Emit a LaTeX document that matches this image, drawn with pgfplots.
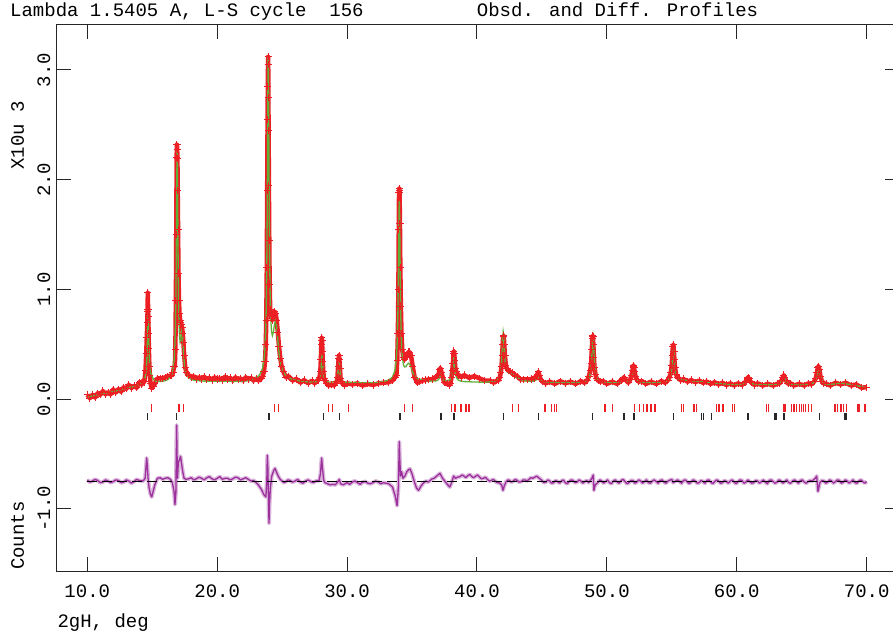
\documentclass[border=0pt]{standalone}
\usepackage{fontspec}
\setmainfont{Liberation Mono}
\usepackage{pgfplots}
\usepackage{pgfplotstable}
\pgfplotsset{compat=1.18}
\definecolor{obsred}{RGB}{236,32,36}
\definecolor{calcgreen}{RGB}{96,176,56}
\definecolor{diffpurple}{RGB}{156,48,156}

\pgfplotstableread{
x calc obs
10.0 0.020 0.040
10.2 0.025 0.010
10.4 0.030 0.040
10.6 0.035 0.015
10.8 0.040 0.055
11.0 0.045 0.040
11.2 0.050 0.075
11.4 0.055 0.045
11.6 0.060 0.065
11.8 0.065 0.045
12.0 0.070 0.090
12.2 0.076 0.061
12.4 0.082 0.092
12.6 0.088 0.068
12.8 0.094 0.109
13.0 0.100 0.095
13.2 0.106 0.131
13.4 0.112 0.102
13.6 0.118 0.123
13.8 0.124 0.104
14.0 0.135 0.155
14.2 0.149 0.134
14.3 0.160 0.170
14.4 0.178 0.158
14.48 0.212 0.26
14.54 0.269 0.42
14.58 0.350 0.56
14.62 0.505 0.70
14.64 0.615 0.80
14.66 0.720 0.97
14.68 0.768 0.82
14.70 0.720 0.75
14.72 0.615 0.60
14.74 0.507 0.46
14.78 0.353 0.30
14.82 0.274 0.22
14.88 0.240 0.14
14.96 0.220 0.10
15.06 0.190 0.12
15.2 0.163 0.14
15.4 0.164 0.19
15.6 0.161 0.19
15.8 0.164 0.19
16.0 0.170 0.20
16.2 0.179 0.21
16.4 0.201 0.215
16.5 0.223 0.22
16.6 0.268 0.24
16.68 0.346 0.30
16.74 0.471 0.30
16.78 0.628 0.45
16.82 0.916 0.90
16.85 1.283 1.50
16.88 1.796 2.20
16.90 2.121 2.32
16.92 2.26 2.28
16.94 2.12 2.19
16.96 1.84 1.90
16.99 1.335 1.55
17.02 0.978 1.15
17.06 0.708 0.90
17.10 0.577 0.78
17.15 0.518 0.72
17.20 0.537 0.70
17.25 0.603 0.68
17.30 0.639 0.65
17.35 0.562 0.60
17.40 0.446 0.52
17.46 0.344 0.40
17.54 0.270 0.29
17.64 0.226 0.24
17.80 0.197 0.22
18.00 0.182 0.20
18.2 0.174 0.21
18.4 0.170 0.185
18.6 0.168 0.20
18.8 0.166 0.185
19.0 0.165 0.205
19.2 0.165 0.18
19.4 0.165 0.195
19.6 0.164 0.175
19.8 0.164 0.20
20.0 0.164 0.185
20.2 0.164 0.19
20.4 0.164 0.175
20.6 0.164 0.205
20.8 0.164 0.185
21.0 0.164 0.195
21.2 0.164 0.17
21.4 0.164 0.20
21.6 0.165 0.18
21.8 0.165 0.19
22.0 0.165 0.17
22.2 0.167 0.20
22.4 0.169 0.18
22.6 0.171 0.195
22.8 0.186 0.17
23.0 0.196 0.19
23.2 0.213 0.17
23.4 0.251 0.19
23.5 0.289 0.21
23.6 0.356 0.25
23.68 0.472 0.34
23.74 0.64 0.50
23.78 0.853 0.72
23.82 1.22 1.20
23.85 1.67 1.90
23.88 2.306 2.55
23.90 2.765 2.85
23.92 3.079 3.12
23.93 3.123 3.05
23.94 3.081 2.75
23.96 2.772 2.45
23.98 2.318 1.95
24.01 1.708 1.45
24.04 1.274 1.05
24.08 0.93 0.82
24.12 0.742 0.78
24.18 0.619 0.74
24.25 0.58 0.72
24.33 0.613 0.76
24.42 0.689 0.80
24.50 0.716 0.78
24.58 0.657 0.72
24.67 0.535 0.61
24.76 0.427 0.48
24.86 0.344 0.37
24.96 0.291 0.30
25.1 0.247 0.25
25.3 0.213 0.20
25.5 0.197 0.21
25.8 0.181 0.17
26.1 0.172 0.185
26.4 0.166 0.15
26.7 0.162 0.175
27.0 0.158 0.145
27.3 0.157 0.17
27.5 0.159 0.145
27.7 0.162 0.17
27.8 0.170 0.175
27.88 0.187 0.20
27.94 0.218 0.25
27.98 0.257 0.36
28.02 0.324 0.50
28.05 0.379 0.56
28.07 0.391 0.54
28.10 0.361 0.44
28.13 0.305 0.34
28.17 0.245 0.25
28.22 0.204 0.19
28.3 0.178 0.17
28.45 0.161 0.14
28.6 0.157 0.125
28.8 0.157 0.135
29.0 0.160 0.125
29.1 0.165 0.14
29.2 0.181 0.16
29.26 0.208 0.20
29.31 0.258 0.30
29.35 0.317 0.37
29.38 0.34 0.40
29.41 0.317 0.36
29.45 0.258 0.28
29.5 0.208 0.19
29.56 0.181 0.16
29.66 0.164 0.14
29.8 0.157 0.125
30.0 0.154 0.145
30.4 0.152 0.135
30.8 0.151 0.145
31.2 0.150 0.125
31.6 0.150 0.14
32.0 0.150 0.13
32.4 0.151 0.145
32.8 0.162 0.15
33.2 0.175 0.155
33.5 0.203 0.17
33.7 0.27 0.20
33.8 0.376 0.22
33.86 0.525 0.35
33.91 0.78 0.60
33.95 1.145 1.00
33.98 1.509 1.55
34.00 1.721 1.88
34.02 1.807 1.92
34.04 1.722 1.90
34.07 1.398 1.60
34.10 1.051 1.20
34.14 0.732 0.85
34.19 0.516 0.60
34.25 0.391 0.45
34.33 0.32 0.38
34.42 0.294 0.36
34.52 0.297 0.38
34.62 0.315 0.41
34.72 0.328 0.43
34.82 0.318 0.43
34.92 0.298 0.40
35.05 0.244 0.30
35.2 0.213 0.20
35.4 0.191 0.15
35.6 0.18 0.16
35.8 0.176 0.17
36.0 0.171 0.175
36.3 0.166 0.18
36.6 0.166 0.185
36.8 0.167 0.20
36.95 0.171 0.215
37.05 0.181 0.23
37.12 0.20 0.27
37.2 0.223 0.28
37.28 0.20 0.24
37.36 0.182 0.20
37.5 0.171 0.15
37.7 0.17 0.14
37.85 0.174 0.13
37.95 0.183 0.14
38.04 0.205 0.20
38.1 0.24 0.26
38.15 0.297 0.33
38.19 0.359 0.42
38.22 0.381 0.44
38.25 0.359 0.42
38.29 0.297 0.35
38.34 0.24 0.28
38.4 0.205 0.25
38.49 0.183 0.23
38.6 0.172 0.22
38.8 0.164 0.20
39.0 0.161 0.22
39.4 0.159 0.195
39.8 0.157 0.21
40.2 0.156 0.19
40.6 0.155 0.17
41.0 0.159 0.17
41.3 0.163 0.15
41.5 0.171 0.17
41.65 0.186 0.17
41.75 0.211 0.20
41.83 0.255 0.24
41.89 0.326 0.30
41.94 0.436 0.40
41.98 0.552 0.50
42.02 0.615 0.57
42.06 0.584 0.58
42.10 0.471 0.50
42.15 0.363 0.40
42.22 0.291 0.31
42.3 0.258 0.28
42.4 0.245 0.26
42.55 0.24 0.25
42.7 0.232 0.24
42.9 0.212 0.22
43.1 0.194 0.21
43.35 0.18 0.18
43.6 0.171 0.18
43.9 0.165 0.18
44.2 0.164 0.185
44.4 0.165 0.19
44.55 0.175 0.21
44.65 0.195 0.23
44.72 0.207 0.25
44.8 0.192 0.22
44.9 0.172 0.18
45.05 0.162 0.16
45.3 0.158 0.145
45.6 0.155 0.16
46.0 0.154 0.14
46.4 0.153 0.165
46.8 0.152 0.145
47.2 0.152 0.16
47.6 0.152 0.14
48.0 0.157 0.165
48.3 0.163 0.15
48.5 0.174 0.175
48.62 0.192 0.21
48.72 0.232 0.26
48.79 0.297 0.33
48.84 0.389 0.45
48.88 0.496 0.55
48.91 0.565 0.58
48.93 0.582 0.57
48.96 0.546 0.50
49.0 0.44 0.38
49.05 0.328 0.29
49.12 0.245 0.23
49.2 0.204 0.19
49.32 0.179 0.17
49.5 0.165 0.16
49.7 0.159 0.165
50.0 0.156 0.14
50.4 0.154 0.16
50.8 0.153 0.14
51.0 0.155 0.165
51.15 0.161 0.17
51.25 0.174 0.19
51.32 0.184 0.20
51.4 0.173 0.18
51.5 0.163 0.17
51.65 0.164 0.15
51.8 0.175 0.18
51.9 0.20 0.22
51.97 0.242 0.26
52.02 0.281 0.30
52.05 0.291 0.31
52.09 0.275 0.29
52.14 0.235 0.25
52.2 0.20 0.21
52.3 0.174 0.18
52.45 0.161 0.16
52.7 0.154 0.165
53.0 0.152 0.14
53.4 0.150 0.16
53.8 0.149 0.14
54.2 0.153 0.165
54.5 0.159 0.15
54.7 0.17 0.175
54.82 0.187 0.20
54.92 0.223 0.24
54.99 0.283 0.31
55.04 0.357 0.40
55.08 0.432 0.48
55.12 0.469 0.50
55.16 0.433 0.44
55.2 0.36 0.36
55.25 0.288 0.29
55.32 0.231 0.23
55.42 0.198 0.20
55.55 0.184 0.19
55.7 0.177 0.17
55.9 0.174 0.185
56.2 0.171 0.16
56.5 0.167 0.175
56.8 0.165 0.155
57.1 0.162 0.17
57.4 0.158 0.15
57.7 0.153 0.16
58.0 0.148 0.14
58.3 0.145 0.155
58.6 0.142 0.135
58.9 0.14 0.15
59.2 0.138 0.13
59.5 0.137 0.145
59.8 0.136 0.125
60.1 0.137 0.145
60.4 0.139 0.13
60.6 0.145 0.15
60.72 0.16 0.165
60.8 0.181 0.19
60.87 0.194 0.20
60.94 0.181 0.185
61.02 0.16 0.165
61.15 0.145 0.15
61.35 0.137 0.13
61.6 0.134 0.145
62.0 0.132 0.125
62.4 0.131 0.14
62.8 0.132 0.125
63.1 0.135 0.14
63.3 0.143 0.145
63.45 0.162 0.17
63.55 0.194 0.20
63.62 0.21 0.22
63.69 0.194 0.20
63.79 0.162 0.17
63.94 0.143 0.14
64.15 0.135 0.145
64.4 0.132 0.125
64.8 0.129 0.14
65.2 0.131 0.125
65.5 0.134 0.145
65.75 0.139 0.135
65.95 0.153 0.16
66.08 0.181 0.19
66.17 0.224 0.24
66.24 0.274 0.29
66.30 0.296 0.30
66.36 0.273 0.27
66.44 0.217 0.21
66.55 0.17 0.165
66.7 0.145 0.145
66.9 0.134 0.14
67.2 0.135 0.125
67.6 0.14 0.15
68.0 0.143 0.135
68.4 0.14 0.15
68.8 0.133 0.125
69.2 0.125 0.135
69.6 0.115 0.105
70.0 0.105 0.11
}\profile

\pgfplotstableread{
x d
10.0 -0.735
10.2 -0.755
10.4 -0.745
10.6 -0.73
10.8 -0.74
11.0 -0.76
11.2 -0.755
11.4 -0.735
11.6 -0.745
11.8 -0.76
12.0 -0.75
12.2 -0.735
12.4 -0.74
12.6 -0.76
12.8 -0.755
13.0 -0.735
13.2 -0.745
13.4 -0.765
13.6 -0.75
13.8 -0.73
14.0 -0.74
14.3 -0.745
14.45 -0.72
14.52 -0.62
14.57 -0.535
14.62 -0.6
14.68 -0.72
14.75 -0.80
14.85 -0.86
14.96 -0.89
15.05 -0.85
15.2 -0.78
15.4 -0.72
15.6 -0.715
15.8 -0.73
16.0 -0.72
16.2 -0.715
16.4 -0.73
16.55 -0.76
16.68 -0.84
16.75 -0.96
16.82 -0.85
16.86 -0.45
16.88 -0.235
16.91 -0.5
16.95 -0.72
16.99 -0.62
17.03 -0.57
17.1 -0.55
17.18 -0.52
17.25 -0.58
17.35 -0.66
17.45 -0.72
17.6 -0.73
17.8 -0.725
18.0 -0.715
18.2 -0.735
18.4 -0.725
18.6 -0.71
18.8 -0.72
19.0 -0.735
19.2 -0.715
19.4 -0.705
19.6 -0.725
19.8 -0.735
20.0 -0.72
20.2 -0.705
20.4 -0.73
20.6 -0.72
20.8 -0.72
21.0 -0.735
21.2 -0.725
21.4 -0.71
21.6 -0.715
21.8 -0.735
22.0 -0.725
22.2 -0.715
22.4 -0.73
22.6 -0.745
22.8 -0.74
23.1 -0.77
23.4 -0.82
23.6 -0.87
23.75 -0.89
23.82 -0.75
23.86 -0.51
23.9 -0.62
23.95 -0.9
23.99 -1.13
24.03 -0.95
24.1 -0.8
24.2 -0.70
24.35 -0.65
24.45 -0.63
24.55 -0.66
24.7 -0.70
24.85 -0.73
25.0 -0.745
25.15 -0.76
25.3 -0.75
25.45 -0.735
25.6 -0.74
25.8 -0.755
26.0 -0.745
26.2 -0.73
26.4 -0.755
26.6 -0.765
26.8 -0.745
27.0 -0.735
27.2 -0.75
27.4 -0.76
27.6 -0.745
27.85 -0.74
27.95 -0.68
28.0 -0.60
28.04 -0.535
28.1 -0.62
28.2 -0.74
28.3 -0.76
28.5 -0.77
28.7 -0.78
28.9 -0.775
29.1 -0.78
29.3 -0.75
29.4 -0.73
29.5 -0.77
29.7 -0.78
30.0 -0.76
30.2 -0.775
30.4 -0.755
30.6 -0.745
30.8 -0.76
31.0 -0.775
31.2 -0.755
31.4 -0.75
31.6 -0.765
31.8 -0.77
32.0 -0.76
32.2 -0.745
32.4 -0.755
32.6 -0.77
32.8 -0.76
33.0 -0.765
33.2 -0.77
33.5 -0.8
33.7 -0.88
33.85 -0.97
33.95 -0.8
34.0 -0.5
34.02 -0.386
34.06 -0.55
34.12 -0.7
34.2 -0.66
34.3 -0.72
34.45 -0.70
34.6 -0.66
34.75 -0.64
34.85 -0.635
35.0 -0.68
35.2 -0.76
35.35 -0.81
35.5 -0.83
35.7 -0.79
35.9 -0.76
36.1 -0.745
36.25 -0.755
36.4 -0.74
36.55 -0.725
36.7 -0.72
36.9 -0.70
37.15 -0.675
37.35 -0.72
37.55 -0.75
37.75 -0.78
37.9 -0.80
38.05 -0.76
38.2 -0.70
38.35 -0.72
38.5 -0.71
38.7 -0.705
38.85 -0.69
39.0 -0.70
39.15 -0.715
39.3 -0.695
39.45 -0.685
39.6 -0.705
39.75 -0.715
39.9 -0.70
40.05 -0.69
40.2 -0.71
40.35 -0.725
40.5 -0.72
40.65 -0.71
40.8 -0.73
40.95 -0.745
41.1 -0.74
41.25 -0.73
41.4 -0.745
41.55 -0.76
41.7 -0.76
41.9 -0.78
42.0 -0.83
42.1 -0.79
42.25 -0.75
42.4 -0.735
42.5 -0.74
42.65 -0.755
42.8 -0.745
42.95 -0.73
43.1 -0.74
43.25 -0.755
43.4 -0.75
43.55 -0.735
43.7 -0.735
43.85 -0.745
44.0 -0.73
44.15 -0.715
44.3 -0.72
44.45 -0.71
44.6 -0.70
44.8 -0.72
45.0 -0.74
45.15 -0.76
45.3 -0.755
45.45 -0.735
45.6 -0.745
45.75 -0.765
45.9 -0.76
46.05 -0.74
46.2 -0.75
46.35 -0.765
46.5 -0.745
46.65 -0.735
46.8 -0.76
46.95 -0.77
47.1 -0.75
47.25 -0.735
47.4 -0.74
47.55 -0.76
47.7 -0.755
47.85 -0.735
48.0 -0.745
48.15 -0.765
48.3 -0.75
48.45 -0.74
48.6 -0.76
48.85 -0.72
48.95 -0.69
49.0 -0.83
49.1 -0.78
49.3 -0.76
49.45 -0.735
49.6 -0.745
49.75 -0.765
49.9 -0.75
50.05 -0.735
50.2 -0.76
50.35 -0.77
50.5 -0.745
50.65 -0.735
50.8 -0.755
50.95 -0.765
51.1 -0.74
51.25 -0.73
51.4 -0.75
51.55 -0.77
51.7 -0.76
51.85 -0.74
52.0 -0.74
52.15 -0.765
52.3 -0.755
52.45 -0.735
52.6 -0.745
52.75 -0.765
52.9 -0.75
53.05 -0.735
53.2 -0.76
53.35 -0.765
53.5 -0.745
53.65 -0.735
53.8 -0.75
53.95 -0.765
54.1 -0.74
54.25 -0.735
54.4 -0.755
54.55 -0.765
54.7 -0.745
55.0 -0.73
55.1 -0.76
55.3 -0.745
55.45 -0.735
55.6 -0.75
55.75 -0.765
55.9 -0.74
56.05 -0.735
56.2 -0.755
56.35 -0.77
56.5 -0.75
56.65 -0.735
56.8 -0.745
56.95 -0.765
57.1 -0.76
57.25 -0.74
57.4 -0.75
57.55 -0.765
57.7 -0.74
57.85 -0.735
58.0 -0.755
58.15 -0.77
58.3 -0.75
58.45 -0.735
58.6 -0.745
58.75 -0.765
58.9 -0.76
59.05 -0.74
59.2 -0.75
59.35 -0.765
59.5 -0.745
59.65 -0.735
59.8 -0.755
59.95 -0.77
60.1 -0.75
60.25 -0.735
60.4 -0.74
60.55 -0.765
60.7 -0.755
60.85 -0.735
61.0 -0.75
61.15 -0.765
61.3 -0.76
61.45 -0.74
61.6 -0.745
61.75 -0.765
61.9 -0.75
62.05 -0.735
62.2 -0.755
62.35 -0.77
62.5 -0.74
62.65 -0.735
62.8 -0.75
62.95 -0.765
63.1 -0.755
63.25 -0.735
63.4 -0.745
63.55 -0.765
63.7 -0.75
63.85 -0.735
64.0 -0.76
64.15 -0.765
64.3 -0.745
64.45 -0.735
64.6 -0.75
64.75 -0.765
64.9 -0.74
65.05 -0.735
65.2 -0.755
65.35 -0.765
65.5 -0.75
65.65 -0.74
65.8 -0.745
66.05 -0.72
66.15 -0.70
66.25 -0.84
66.4 -0.76
66.55 -0.74
66.7 -0.745
66.85 -0.765
67.0 -0.755
67.15 -0.735
67.3 -0.745
67.45 -0.765
67.6 -0.75
67.75 -0.735
67.9 -0.74
68.05 -0.765
68.2 -0.755
68.35 -0.735
68.5 -0.745
68.65 -0.765
68.8 -0.75
68.95 -0.735
69.1 -0.76
69.25 -0.765
69.4 -0.745
69.55 -0.735
69.7 -0.75
69.85 -0.765
70.0 -0.75
}\diffdata

\begin{document}
\begin{tikzpicture}[font=\fontsize{19}{22}\selectfont]
\begin{axis}[
  at={(0pt,0pt)}, anchor=south west,
  scale only axis, width=842.5pt, height=546pt,
  xmin=7.63, xmax=72.49, ymin=-1.565, ymax=3.41,
  axis line style={line width=1pt, black!85},
  every tick/.style={line width=1pt, black!85},
  tick align=inside, major tick length=14pt, tick pos=both,
  xtick={10,20,30,40,50,60,70},
  xticklabels={10.0,20.0,30.0,40.0,50.0,60.0,70.0},
  ytick={-1,0,1,2,3},
  yticklabels={-1.0,0.0,1.0,2.0,3.0},
  xticklabel style={anchor=base, yshift=-26pt, inner sep=0pt},
  yticklabel style={xshift=-6.5pt, rotate=90, anchor=base, inner sep=0pt},
]
\addplot[obsred, line width=4.5pt, line join=round] table[x=x, y=obs] {\profile};
\addplot[obsred, only marks, mark=+, mark size=3.6pt, mark options={line width=0.9pt}] table[x=x, y=obs] {\profile};
\addplot[calcgreen, line width=1.3pt] table[x=x, y=calc] {\profile};
\addplot[obsred, only marks, mark=|, mark size=3.8pt, mark options={line width=1.3pt}] coordinates {
(14.96,-0.08) (17.06,-0.08) (17.39,-0.08) (24.40,-0.08) (24.70,-0.08) (28.55,-0.08) (28.89,-0.08) (30.09,-0.08)
(34.40,-0.08) (35.05,-0.08) (38.05,-0.08) (38.30,-0.08) (38.77,-0.08) (39.15,-0.08) (39.38,-0.08) (42.72,-0.08)
(43.18,-0.08) (45.24,-0.08) (45.75,-0.08) (45.95,-0.08) (46.14,-0.08) (49.85,-0.08) (50.42,-0.08) (52.11,-0.08)
(52.50,-0.08) (52.80,-0.08) (53.10,-0.08) (53.40,-0.08) (53.70,-0.08) (55.76,-0.08) (55.88,-0.08) (56.70,-0.08)
(56.90,-0.08) (58.46,-0.08) (58.64,-0.08) (58.90,-0.08) (59.00,-0.08) (59.68,-0.08) (59.81,-0.08) (62.30,-0.08)
(62.43,-0.08) (63.58,-0.08) (63.71,-0.08) (64.23,-0.08) (64.41,-0.08) (64.61,-0.08) (64.81,-0.08) (65.00,-0.08)
(65.12,-0.08) (65.30,-0.08) (65.50,-0.08) (65.76,-0.08) (67.56,-0.08) (67.74,-0.08) (68.02,-0.08) (68.20,-0.08)
(68.46,-0.08) (69.29,-0.08) (69.40,-0.08) (69.87,-0.08)};
\addplot[black!85, only marks, mark=|, mark size=3.6pt, mark options={line width=1.5pt}] coordinates {
(14.65,-0.157) (16.88,-0.157) (23.99,-0.157) (28.17,-0.157) (29.40,-0.157) (34.07,-0.157) (37.23,-0.157)
(38.25,-0.157) (42.03,-0.157) (44.72,-0.157) (48.90,-0.157) (51.32,-0.157) (52.09,-0.157) (55.11,-0.157)
(57.29,-0.157) (57.42,-0.157) (58.06,-0.157) (60.88,-0.157) (62.94,-0.157) (63.07,-0.157) (63.63,-0.157)
(66.35,-0.157) (68.34,-0.157) (68.46,-0.157)};
\addplot[diffpurple!35!white, line width=4pt, line join=round] table[x=x, y=d] {\diffdata};
\addplot[diffpurple, line width=1.3pt, line join=round] table[x=x, y=d] {\diffdata};
\addplot[black, line width=0.9pt, dash pattern=on 10pt off 5pt] coordinates {(10,-0.748) (70,-0.748)};
\end{axis}
\node[anchor=base west, inner sep=0pt] at (-46.5pt,554pt) {Lambda 1.5405 A, L-S cycle\ \ 156};
\node[anchor=base west, inner sep=0pt] at (420.2pt,554pt) {Obsd. and Diff. Profiles};
\node[anchor=base west, inner sep=0pt] at (0.8pt,-56pt) {2gH, deg};
\node[rotate=90, anchor=base west, inner sep=0pt] at (-32.5pt,401pt) {X10u 3};
\node[rotate=90, anchor=base west, inner sep=0pt] at (-32.5pt,1pt) {Counts};
\pgfresetboundingbox
\path (-56.5pt,-64pt) rectangle (836.5pt,571pt);
\end{tikzpicture}
\end{document}
